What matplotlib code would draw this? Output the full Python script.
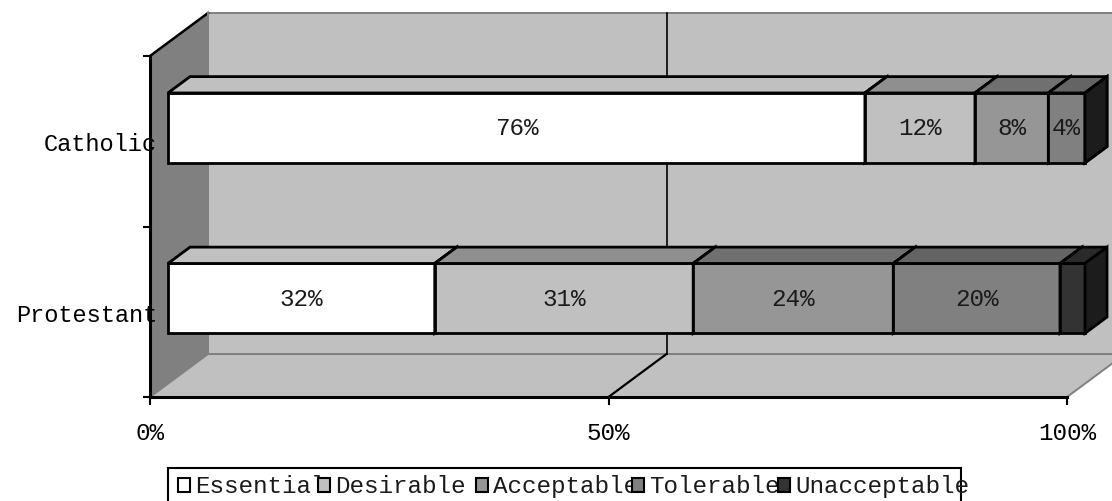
import matplotlib.pyplot as plt
from matplotlib.patches import Polygon, Rectangle

categories = ['Protestant', 'Catholic']
series_names = ['Essential', 'Desirable', 'Acceptable', 'Tolerable', 'Unacceptable']
essential = [32, 76]
desirable = [31, 12]
acceptable = [24, 8]
tolerable = [20, 4]
unacceptable = [3, 0]
show_label = [True, True, True, True, False]
xtick_values = [0, 50, 100]
xtick_labels = ['0%', '50%', '100%']

front_colors = ['#ffffff', '#c0c0c0', '#969696', '#808080', '#333333']
top_colors = ['#c0c0c0', '#8f8f8f', '#707070', '#646464', '#2a2a2a']
side_colors = ['#808080', '#606060', '#4b4b4b', '#404040', '#1c1c1c']

plt.rcParams['font.family'] = ['Liberation Mono', 'DejaVu Sans Mono']
plt.rcParams['font.size'] = 17.5

W, H = 1112, 502
fig = plt.figure(figsize=(W / 100, H / 100), dpi=100)

# front plane of the plot box, in pixels
x0, x1, y0, y1 = 150, 1067, 57, 398
ax = fig.add_axes([x0 / W, 1 - y1 / H, (x1 - x0) / W, (y1 - y0) / H])
ax.set_xlim(0, 100)
ax.set_ylim(0, len(categories))
ax.patch.set_visible(False)

# oblique depth offset of the 3-D box, in data units
DX = 58 / (x1 - x0) * 100
DY = 43 / (y1 - y0) * len(categories)
YT = len(categories)


def at(pts, d):
    return [(x + d * DX, y + d * DY) for x, y in pts]


# walls and floor
ax.add_patch(Polygon([(DX, DY), (100 + DX, DY), (100 + DX, YT + DY), (DX, YT + DY)],
                     fc='#c0c0c0', ec='#808080', lw=1.4, clip_on=False, zorder=0.5))
ax.add_patch(Polygon([(0, 0), (DX, DY), (DX, YT + DY), (0, YT)],
                     fc='#808080', ec='#808080', lw=1.0, clip_on=False, zorder=0.6))
ax.add_patch(Polygon([(0, 0), (100, 0), (100 + DX, DY), (DX, DY)],
                     fc='#c0c0c0', ec='#808080', lw=1.4, clip_on=False, zorder=0.7))
ax.plot([0, DX], [YT, YT + DY], color='black', lw=1.8, clip_on=False, zorder=0.8)
ax.plot([DX, DX], [DY, YT + DY], color='#808080', lw=1.4, clip_on=False, zorder=0.8)

# 50% gridline on the back wall and the floor
ax.plot([50 + DX, 50 + DX], [DY, YT + DY], color='black', lw=1.2, clip_on=False, zorder=0.9)
ax.plot([50, 50 + DX], [0, DY], color='black', lw=1.6, clip_on=False, zorder=0.9)

# stacked 100% bars
series = [essential, desirable, acceptable, tolerable, unacceptable]
h = 0.205
d0, d1 = 0.31, 0.69
for i, cat in enumerate(categories):
    y = i + 0.5
    total = sum(s[i] for s in series)
    left = 0.0
    for k, s in enumerate(series):
        w = s[i] / total * 100
        r = left + w
        front = Polygon(at([(left, y - h), (r, y - h), (r, y + h), (left, y + h)], d0),
                        fc=front_colors[k], ec='black', lw=2.0, joinstyle='miter',
                        clip_on=False, zorder=3)
        top = Polygon(at([(left, y + h), (r, y + h)], d0) + at([(r, y + h), (left, y + h)], d1),
                      fc=top_colors[k], ec='black', lw=2.0, joinstyle='miter',
                      clip_on=False, zorder=3)
        side = Polygon(at([(r, y - h), (r, y + h)], d0) + at([(r, y + h), (r, y - h)], d1),
                       fc=side_colors[k], ec='black', lw=2.0, joinstyle='miter',
                       clip_on=False, zorder=3)
        for p in (front, top, side):
            ax.add_patch(p)
        if show_label[k] and s[i] > 0:
            cx, cy = at([(left + w / 2, y)], d0)[0]
            t = ax.text(cx, cy, f'{s[i]}%', ha='center', va='center', zorder=4,
                        color='#1a1a1a')
            t.set_clip_path(front)
        left = r

# axes lines and ticks
for side_name in ('top', 'right'):
    ax.spines[side_name].set_visible(False)
for side_name in ('left', 'bottom'):
    ax.spines[side_name].set_linewidth(2.2)
    ax.spines[side_name].set_zorder(2)
ax.set_xticks(xtick_values, labels=xtick_labels)
ax.tick_params(axis='x', direction='out', length=6, width=1.5, pad=11)
ax.set_yticks(range(len(categories) + 1), labels=[])
ax.tick_params(axis='y', which='major', direction='out', length=5, width=1.5)
ax.set_yticks([i + 0.5 for i in range(len(categories))], labels=categories, minor=True)
ax.tick_params(axis='y', which='minor', length=0, pad=-5, labelsize=17)

# legend box along the bottom edge
lax = fig.add_axes([0, 0, 1, 1])
lax.set_xlim(0, W)
lax.set_ylim(H, 0)
lax.axis('off')
box = Rectangle((168, 469), 793, 50, fc='white', ec='black', lw=1.5, zorder=1)
lax.add_patch(box)
square_x = [178, 318, 476, 632, 778]
for k, name in enumerate(series_names):
    lax.add_patch(Rectangle((square_x[k], 479), 12, 14, fc=front_colors[k], ec='black',
                            lw=1.5, zorder=2 + 2 * k))
    t = lax.text(square_x[k] + 17, 487, name, ha='left', va='center', zorder=3 + 2 * k,
                 color='#1a1a1a')
    t.set_clip_path(box)

fig.savefig('out.png', dpi=100)
plt.close(fig)
